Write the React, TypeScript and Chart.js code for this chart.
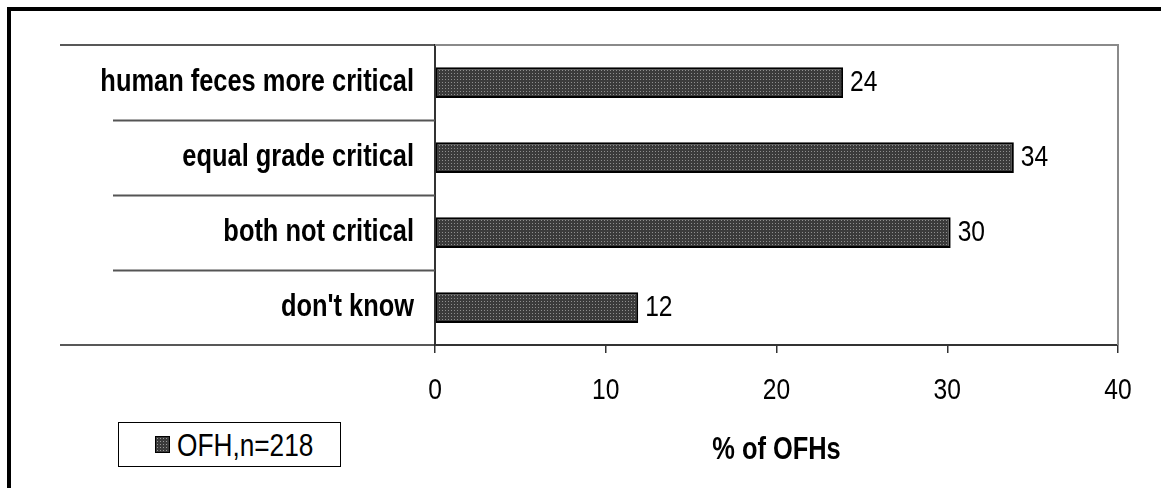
import React, { useEffect, useRef } from "react";
import { Chart, registerables } from "chart.js";

Chart.register(...registerables);

const categories = [
  "human feces more critical",
  "equal grade critical",
  "both not critical",
  "don't know",
];
const values = [23.9, 33.9, 30.2, 11.9];
const valueLabels = ["24", "34", "30", "12"];
const seriesName = "OFH,n=218";
const axisTitle = "% of OFHs";
const xMin = 0;
const xMax = 40;
const xStep = 10;

// Arial Narrow is emulated by horizontally condensing Liberation Sans (Arial metrics)
const FONT = '"Liberation Sans", Arial, sans-serif';
const NARROW = 0.82;
const FS = 30;
const FS_BOLD = 31;
const FS_LEGEND = 32;

function makePattern(): CanvasPattern | string {
  const c = document.createElement("canvas");
  c.width = 3;
  c.height = 3;
  const g = c.getContext("2d");
  if (!g) return "#454545";
  g.fillStyle = "#3b3b3b";
  g.fillRect(0, 0, 3, 3);
  g.fillStyle = "#8e8e8e";
  g.fillRect(1, 1, 1, 1);
  const p = g.createPattern(c, "repeat");
  return p || "#454545";
}

const narrowTextPlugin = {
  id: "narrowText",
  beforeDraw(chart: any) {
    const ctx = chart.ctx;
    if (ctx.__origFill) return;
    const orig = ctx.fillText;
    ctx.__origFill = orig;
    ctx.fillText = function (text: string, x: number, y: number, maxWidth?: number) {
      this.save();
      this.translate(x, y);
      this.scale(NARROW, 1);
      if (maxWidth !== undefined) orig.call(this, text, 0, 0, maxWidth / NARROW);
      else orig.call(this, text, 0, 0);
      this.restore();
    };
  },
  afterDraw(chart: any) {
    const ctx = chart.ctx;
    if (ctx.__origFill) {
      ctx.fillText = ctx.__origFill;
      delete ctx.__origFill;
    }
  },
};

const framePlugin = {
  id: "frame",
  afterDraw(chart: any) {
    const { ctx, chartArea } = chart;
    const yScale = chart.scales.y;
    ctx.save();
    ctx.strokeStyle = "#8a8a8a";
    ctx.lineWidth = 2;
    ctx.beginPath();
    ctx.moveTo(chartArea.left, chartArea.top);
    ctx.lineTo(chartArea.right, chartArea.top);
    ctx.lineTo(chartArea.right, chartArea.bottom);
    ctx.stroke();
    ctx.strokeStyle = "#222";
    ctx.lineWidth = 1.5;
    ctx.beginPath();
    ctx.moveTo(60, chartArea.top);
    ctx.lineTo(chartArea.left, chartArea.top);
    ctx.moveTo(60, chartArea.bottom);
    ctx.lineTo(chartArea.left, chartArea.bottom);
    ctx.stroke();
    ctx.strokeStyle = "#555";
    ctx.lineWidth = 2;
    ctx.beginPath();
    for (let i = 0; i < categories.length - 1; i++) {
      const y = Math.round((yScale.getPixelForValue(i) + yScale.getPixelForValue(i + 1)) / 2) + 0.5;
      ctx.moveTo(113, y);
      ctx.lineTo(chartArea.left, y);
    }
    ctx.stroke();
    const meta = chart.getDatasetMeta(0);
    ctx.fillStyle = "#000";
    ctx.font = `${FS}px ${FONT}`;
    ctx.textAlign = "left";
    ctx.textBaseline = "middle";
    meta.data.forEach((bar: any, i: number) => {
      ctx.fillText(valueLabels[i], bar.x + 7, bar.y);
    });
    ctx.restore();
  },
};

export default function App() {
  const ref = useRef<HTMLCanvasElement | null>(null);

  useEffect(() => {
    if (!ref.current) return;
    const pattern = makePattern();
    const chart = new Chart(ref.current, {
      type: "bar",
      data: {
        labels: categories,
        datasets: [
          {
            label: seriesName,
            data: values,
            backgroundColor: pattern as any,
            borderColor: "#000",
            borderWidth: 2,
            borderSkipped: false,
            barPercentage: 0.41,
            categoryPercentage: 1,
          },
        ],
      },
      options: {
        indexAxis: "y",
        responsive: false,
        animation: false,
        devicePixelRatio: 1,
        layout: { padding: { left: 0, right: 43, top: 45, bottom: 0 } },
        plugins: {
          legend: { display: false },
          tooltip: { enabled: false },
        },
        scales: {
          x: {
            type: "linear",
            min: xMin,
            max: xMax,
            afterFit: (s: any) => {
              s.height = 143;
            },
            ticks: {
              stepSize: xStep,
              color: "#000",
              padding: 20,
              font: { family: FONT, size: FS },
            },
            grid: {
              drawOnChartArea: false,
              drawTicks: true,
              tickLength: 8,
              color: "#333",
              lineWidth: 1.5,
            },
            border: { display: true, color: "#333", width: 2 },
            title: {
              display: true,
              text: axisTitle,
              color: "#000",
              font: { family: FONT, size: FS_BOLD, weight: "bold" },
              padding: { top: 0, bottom: 19 },
            },
          },
          y: {
            type: "category",
            afterFit: (s: any) => {
              s.width = 435;
            },
            ticks: {
              color: "#000",
              padding: 21,
              font: { family: FONT, size: FS_BOLD, weight: "bold" },
            },
            grid: { display: false, drawTicks: false },
            border: { display: true, color: "#333", width: 2 },
          },
        },
      },
      plugins: [framePlugin, narrowTextPlugin],
    });
    return () => chart.destroy();
  }, []);

  return (
    <div
      style={{
        position: "absolute",
        left: 0,
        top: 0,
        width: 1161,
        height: 488,
        overflow: "hidden",
        background: "#fff",
      }}
    >
      <canvas ref={ref} width={1161} height={488} style={{ display: "block" }} />
      <div
        style={{
          position: "absolute",
          left: 7,
          top: 7,
          width: 1400,
          height: 700,
          border: "4px solid #000",
          pointerEvents: "none",
        }}
      />
      <div
        style={{
          position: "absolute",
          left: 118,
          top: 422,
          width: 223,
          height: 45,
          boxSizing: "border-box",
          border: "1px solid #000",
          background: "#fff",
          display: "flex",
          alignItems: "center",
          justifyContent: "flex-start",
          paddingLeft: 36,
          fontFamily: FONT,
          fontSize: FS_LEGEND,
          color: "#000",
          lineHeight: 1,
          overflow: "hidden",
        }}
      >
        <span
          style={{
            display: "inline-block",
            width: 13,
            height: 15,
            marginRight: 7,
            border: "1px solid #000",
            backgroundColor: "#3b3b3b",
            backgroundImage: "radial-gradient(#999 35%, transparent 40%)",
            backgroundSize: "3px 3px",
            flex: "none",
          }}
        />
        <span
          style={{
            display: "inline-block",
            transform: `scaleX(${NARROW})`,
            transformOrigin: "left center",
            whiteSpace: "nowrap",
          }}
        >
          {seriesName}
        </span>
      </div>
    </div>
  );
}
